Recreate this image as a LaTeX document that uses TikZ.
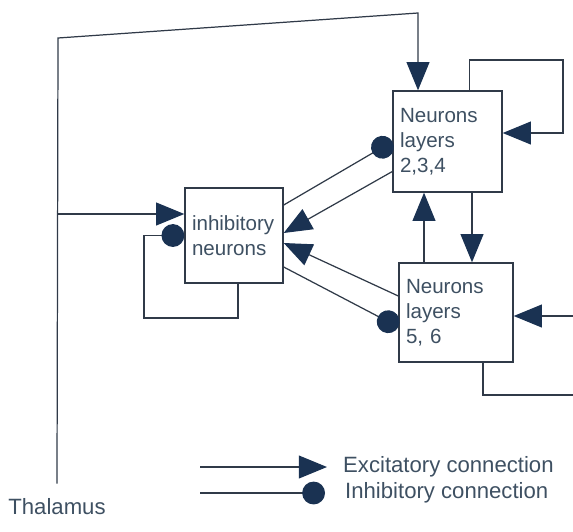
\documentclass[tikz,border=0pt]{standalone}
\usepackage{fontspec}
\setmainfont{Liberation Sans}
\usepackage{xcolor}
\definecolor{cxnavy}{RGB}{26,50,82}
\definecolor{cxline}{RGB}{48,58,72}
\definecolor{cxtext}{RGB}{62,80,98}
\usetikzlibrary{arrows.meta, positioning}

\tikzset{
  layerbox/.style={draw=cxline, line width=0.8pt, fill=white, align=left,
    inner xsep=0.14cm, text=cxtext, font=\fontsize{11.7}{14.2}\selectfont},
  exc/.style={draw=cxline, line width=0.7pt, -{Triangle[length=16pt,width=13pt,color=cxnavy]}},
  inh/.style={draw=cxline, line width=0.7pt, -{Circle[length=13pt,color=cxnavy]}},
  plain/.style={draw=cxline, line width=0.7pt},
  lab/.style={text=cxtext, font=\fontsize{12.6}{15}\selectfont}
}

\begin{document}
\begin{tikzpicture}[x=0.02cm, y=-0.02cm]
  \useasboundingbox (0,0) rectangle (573,531);

  % --- Boxes ---
  \node[layerbox, text width=1.9cm, minimum height=2.02cm] (lay234) at (447.5,141.5)
       {Neurons\\layers\\2,3,4};
  \node[layerbox, text width=1.68cm, minimum height=1.9cm] (inhib) at (234,235.5)
       {inhibitory\\neurons};
  \node[layerbox, text width=2.0cm, minimum height=1.98cm] (lay56) at (456,312.5)
       {Neurons\\layers\\5, 6};
  \node[lab] (thal) at (57,507) {Thalamus};

  % --- Thalamic input ---
  \coordinate (tl) at (58,38);
  \coordinate (ta) at (418,13);
  \coordinate (tb) at (58,214);
  \draw[exc] ([yshift=0.18cm]thal.north) -- (tl) -- (ta) -- (ta |- lay234.north);
  \draw[exc] (tb) -- (tb -| inhib.west);

  % --- Self loops ---
  \coordinate (ar) at (563,60);
  \draw[exc] ([xshift=0.44cm]lay234.north) |- (ar) |- ([yshift=0.17cm]lay234.east);
  \coordinate (bl) at (144,318);
  \draw[inh] ([xshift=0.08cm]inhib.south) -- ([xshift=0.08cm]inhib.south |- bl)
       -- (bl) -- (bl |- inhib.west) -- (inhib.west);

  % --- Layers 2,3,4 <-> layers 5,6 ---
  \draw[exc] ([xshift=0.49cm]lay234.south) -- ([xshift=0.49cm]lay234.south |- lay56.north);
  \draw[exc] ([xshift=-0.64cm]lay56.north) -- ([xshift=-0.64cm]lay56.north |- lay234.south);

  % --- Inhibitory neurons <-> layers ---
  \draw[inh] ([yshift=0.61cm]inhib.east) -- (lay234.west);
  \draw[exc] ([yshift=-0.6cm]lay234.west) -- ([yshift=0.05cm]inhib.east);
  \draw[exc] ([yshift=0.33cm]lay56.west) -- ([yshift=-0.15cm]inhib.east);
  \draw[inh] ([yshift=-0.63cm]inhib.east) -- ([yshift=-0.29cm]lay56.west);

  % --- Layers 5,6 input / output ---
  \coordinate (cr) at (573,316);
  \draw[exc] (cr) -- (cr -| lay56.east);
  \coordinate (cb) at (573,395);
  \draw[plain] ([xshift=0.54cm]lay56.south) |- (cb);

  % --- Legend ---
  \node[lab, anchor=west] (exclab) at (337,467) {Excitatory connection};
  \node[lab, anchor=west] (inhlab) at (339,493) {Inhibitory connection};
  \coordinate (le1) at (200,467);
  \coordinate (le2) at (200,493);
  \draw[exc] (le1) -- ([xshift=-0.2cm]exclab.west);
  \draw[inh] (le2) -- ([xshift=-0.28cm]inhlab.west);
\end{tikzpicture}
\end{document}
